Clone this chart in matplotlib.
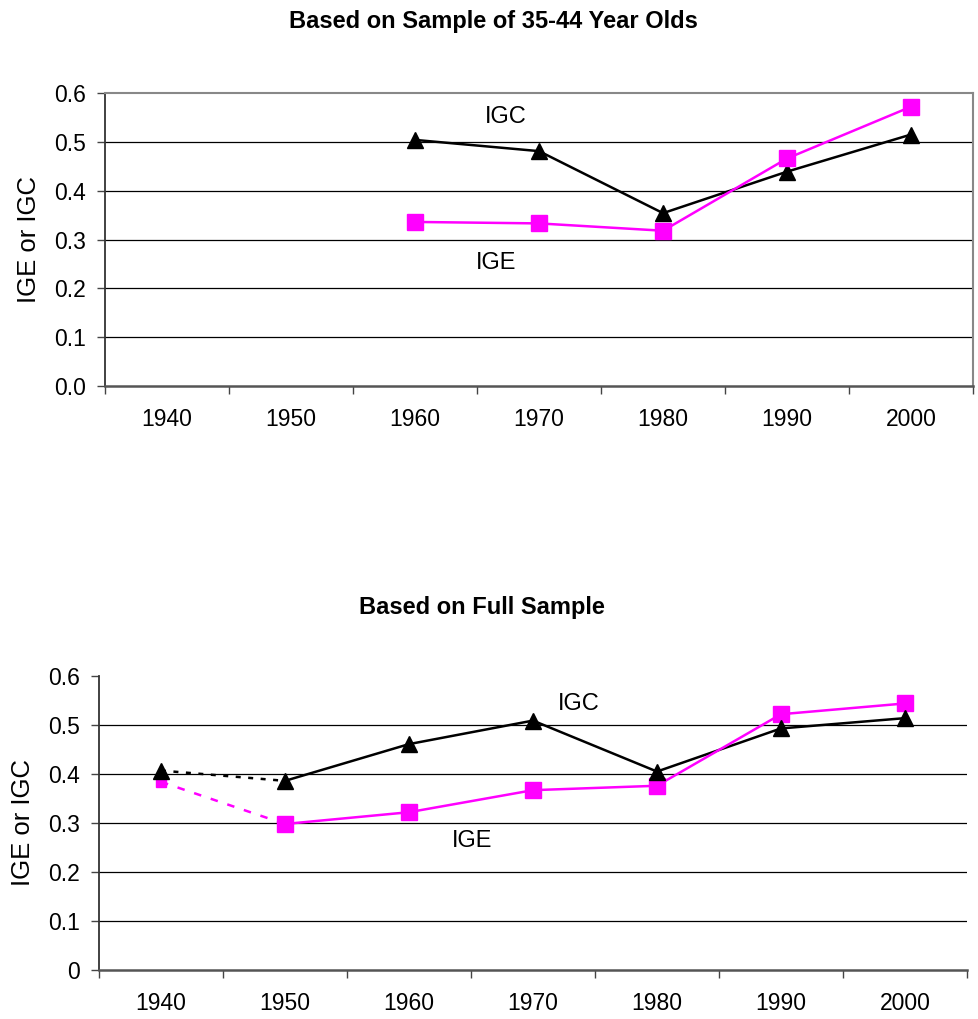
import matplotlib.pyplot as plt
import numpy as np

plt.rcParams['font.family'] = ['Liberation Sans', 'DejaVu Sans']

years = ['1940', '1950', '1960', '1970', '1980', '1990', '2000']

# sample of 35-44 year olds (1960-2000 only)
igc_top = [np.nan, np.nan, 0.504, 0.481, 0.354, 0.439, 0.515]
ige_top = [np.nan, np.nan, 0.336, 0.333, 0.318, 0.466, 0.572]

# full sample
igc_full = [0.407, 0.386, 0.461, 0.509, 0.405, 0.493, 0.514]
ige_full = [0.384, 0.298, 0.322, 0.367, 0.376, 0.522, 0.544]

top_yticks = ['0.0', '0.1', '0.2', '0.3', '0.4', '0.5', '0.6']
full_yticks = ['0', '0.1', '0.2', '0.3', '0.4', '0.5', '0.6']

MAG = '#FF00FF'
x = np.arange(len(years))

fig = plt.figure(figsize=(9.79, 10.19), dpi=100)
ax1 = fig.add_axes([0.1073, 0.6212, 0.8866, 0.2875])
ax2 = fig.add_axes([0.1011, 0.0481, 0.8866, 0.2885])


def style(ax, ylabels, box):
    ax.set_xlim(-0.5, 6.5)
    ax.set_ylim(0, 0.6)
    ax.set_yticks(np.arange(0, 0.61, 0.1))
    ax.set_yticklabels(ylabels, fontsize=16.5)
    for v in [0.1, 0.2, 0.3, 0.4, 0.5]:
        ax.axhline(v, color='black', lw=0.9, zorder=1)
    ax.set_xticks(np.arange(-0.5, 6.6, 1))
    ax.set_xticklabels([])
    ax.set_xticks(x, minor=True)
    ax.set_xticklabels(years, minor=True, fontsize=16.5)
    ax.tick_params(axis='x', which='minor', length=0, pad=16)
    ax.tick_params(axis='x', which='major', length=5.5, width=1, color='#444444')
    ax.tick_params(axis='y', length=6, width=1, pad=8, color='#444444')
    ax.spines['left'].set_color('#333333')
    ax.spines['left'].set_linewidth(1.3)
    ax.spines['bottom'].set_color('#555555')
    ax.spines['bottom'].set_linewidth(1.8)
    if box:
        ax.spines['top'].set_color('#888888')
        ax.spines['top'].set_linewidth(1.5)
        ax.spines['right'].set_color('#888888')
        ax.spines['right'].set_linewidth(1.5)
    else:
        ax.spines['top'].set_visible(False)
        ax.spines['right'].set_visible(False)
    ax.set_ylabel('IGE or IGC', fontsize=18.5)
    ax.yaxis.set_label_coords(-0.074, 0.5)


# top panel
style(ax1, top_yticks, True)
ax1.plot(x, igc_top, color='black', lw=1.8, marker='^', ms=11, zorder=3)
ax1.plot(x, ige_top, color=MAG, lw=1.8, marker='s', ms=11, zorder=3)
ax1.text(2.73, 0.551, 'IGC', fontsize=17, ha='center', va='center')
ax1.text(2.65, 0.252, 'IGE', fontsize=17, ha='center', va='center')
ax1.set_title('Based on Sample of 35-44 Year Olds', fontsize=17,
              fontweight='bold', pad=47, x=0.448)

# bottom panel
style(ax2, full_yticks, False)
ax2.plot(x[:2], igc_full[:2], color='black', lw=1.8, ls=(0, (2, 3)), zorder=2)
ax2.plot(x[:2], ige_full[:2], color=MAG, lw=1.8, ls=(0, (3, 4)), zorder=2)
ax2.plot(x[1:], igc_full[1:], color='black', lw=1.8, zorder=3)
ax2.plot(x[1:], ige_full[1:], color=MAG, lw=1.8, zorder=3)
ax2.plot(x[1:], ige_full[1:], ls='none', marker='s', ms=11, color=MAG, zorder=4)
ax2.plot(x[:1], ige_full[:1], ls='none', marker='s', ms=7, color=MAG, zorder=4)
ax2.plot(x, igc_full, ls='none', marker='^', ms=11, color='black', zorder=5)
ax2.text(3.37, 0.543, 'IGC', fontsize=17, ha='center', va='center')
ax2.text(2.51, 0.264, 'IGE', fontsize=17, ha='center', va='center')
ax2.set_title('Based on Full Sample', fontsize=17, fontweight='bold',
              pad=45, x=0.441)

fig.savefig('out.png', dpi=100)
